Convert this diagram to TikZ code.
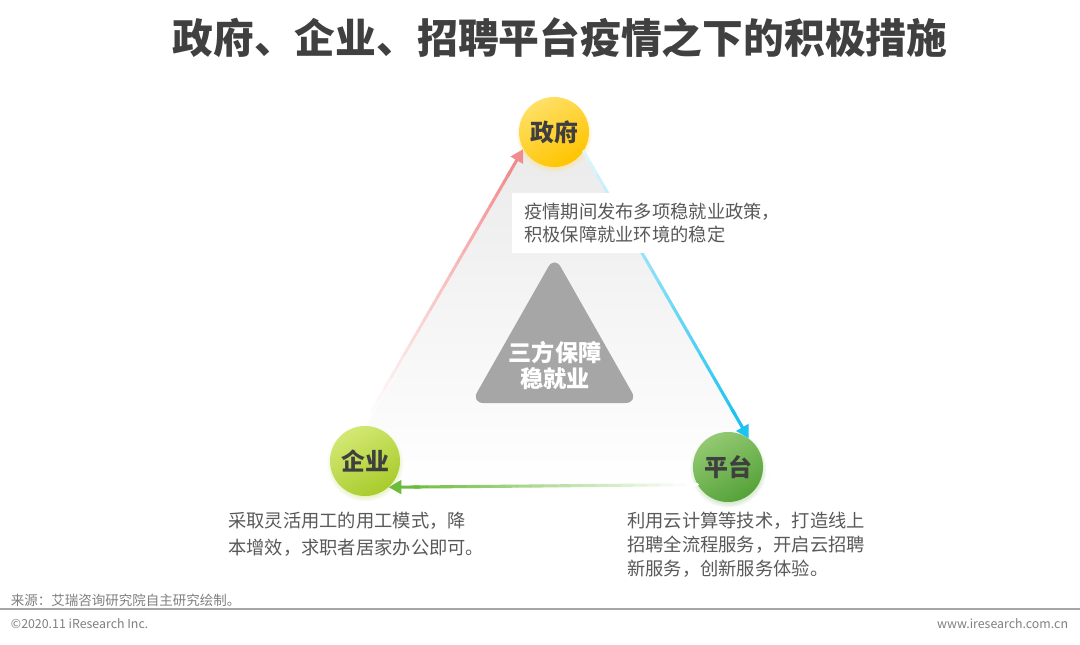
\documentclass[tikz,border=0pt]{standalone}
\usepackage{fontspec}
\setmainfont{Noto Sans CJK SC}
\usetikzlibrary{positioning,arrows.meta,calc,shadows}

\definecolor{titlegray}{HTML}{404040}
\definecolor{labelgray}{HTML}{3F3F3F}
\definecolor{notegray}{HTML}{595959}
\definecolor{footgray}{HTML}{7F7F7F}
\definecolor{coregray}{HTML}{A6A6A6}
\definecolor{govlight}{HTML}{FFE066}
\definecolor{govdark}{HTML}{FFC400}
\definecolor{entlight}{HTML}{D3E874}
\definecolor{entdark}{HTML}{A8CB2B}
\definecolor{platlight}{HTML}{93C972}
\definecolor{platdark}{HTML}{55A239}
\definecolor{redarr}{HTML}{F08C8C}
\definecolor{bluearr}{HTML}{1CC2F0}
\definecolor{greenarr}{HTML}{6CBB3C}

\begin{document}
\begin{tikzpicture}[
  x=0.025cm, y=-0.025cm,
  font=\fontsize{13}{17}\selectfont,
  ball/.style={circle, minimum size=1.75cm, inner sep=0pt, font=\bfseries\fontsize{17}{18}\selectfont, text=labelgray, shading angle=30},
  note/.style={align=left, text=notegray, inner sep=0pt},
  flow/.style={line width=2.2pt, line cap=round},
  arr/.style={-{Triangle[length=3.2mm, width=3.4mm]}, line width=2.2pt}
]
\useasboundingbox (0,0) rectangle (1080,645);

%% ---------- Title ----------
\node[font=\bfseries\fontsize{29}{30}\selectfont, text=titlegray] (title) at (560,38) {政府、企业、招聘平台疫情之下的积极措施};

%% ---------- Background triangle ----------
\shade[top color=gray!18, bottom color=white] (553,100) -- (331,487) -- (779,487) -- cycle;

%% ---------- Three parties (centres at 132 / 461 / 467) ----------
\node[ball, top color=govlight, bottom color=govdark, shading angle=30,
      circular drop shadow={shadow xshift=0pt, shadow yshift=-1.5pt, shadow scale=1.1, fill=govdark!50, opacity=0.5}] (gov) at (554,132) {政府};
\node[ball, top color=entlight, bottom color=entdark, shading angle=30,
      circular drop shadow={shadow xshift=0pt, shadow yshift=-1.5pt, shadow scale=1.1, fill=entdark!50, opacity=0.5}] (ent) at (365,461) {企业};
\node[ball, top color=platlight, bottom color=platdark, shading angle=30,
      circular drop shadow={shadow xshift=0pt, shadow yshift=-1.5pt, shadow scale=1.1, fill=platdark!50, opacity=0.5}] (plat) at (728,467) {平台};

%% ---------- Fading connectors ----------
% enterprise -> government (red, fades out towards the bottom)
\coordinate (entup) at ($(ent.north)+(0,-3)$);
\foreach \i in {0,...,21} {
  \pgfmathtruncatemacro\mix{100*\i/22}
  \draw[flow, redarr!\mix!white] ($(entup)!\i/24!(gov.209)$) -- ($(entup)!\i/24+1/24!(gov.209)$);
}
\draw[arr, redarr] ($(entup)!0.9!(gov.209)$) -- (gov.209);

% government -> platform (blue)
\foreach \i in {0,...,21} {
  \pgfmathtruncatemacro\mix{15+85*\i/22}
  \draw[flow, bluearr!\mix!white] ($(gov.-33)!\i/24!(plat.54)$) -- ($(gov.-33)!\i/24+1/24!(plat.54)$);
}
\draw[arr, bluearr] ($(gov.-33)!0.9!(plat.54)$) -- (plat.54);

% platform -> enterprise (green)
\foreach \i in {0,...,21} {
  \pgfmathtruncatemacro\mix{100*\i/22}
  \draw[flow, greenarr!\mix!white] ($(plat.210)!\i/24!(ent.-48)$) -- ($(plat.210)!\i/24+1/24!(ent.-48)$);
}
\draw[arr, greenarr] ($(plat.210)!0.9!(ent.-48)$) -- (ent.-48);

%% ---------- Core ----------
\fill[coregray, rounded corners=9pt] (554.5,256) -- (638,403) -- (471,403) -- cycle;
\node[font=\bfseries\fontsize{16.5}{18.5}\selectfont, text=white, align=center] (core) at (555,366) {三方保障\\稳就业};

%% ---------- Notes ----------
\node[note, fill=white, anchor=north west, inner xsep=0.3cm, inner ysep=0.25cm, font=\fontsize{13}{16.5}\selectfont] (govnote) at (512,193) {疫情期间发布多项稳就业政策，\\积极保障就业环境的稳定};
\node[note, anchor=north west, font=\fontsize{13}{19}\selectfont] (entnote) at (228,512) {采取灵活用工的用工模式，降\\本增效，求职者居家办公即可。};
\node[note, anchor=north west, font=\fontsize{13}{17}\selectfont] (platnote) at (627,512) {利用云计算等技术，打造线上\\招聘全流程服务，开启云招聘\\新服务，创新服务体验。};

%% ---------- Footer ----------
\node[anchor=west, text=footgray, font=\fontsize{9.6}{11}\selectfont] (source) at (6,600) {来源：艾瑞咨询研究院自主研究绘制。};
\draw[gray!70, line width=1.3pt] (0,609) -- (1080,609);
\node[anchor=west, text=footgray, font=\fontsize{8.8}{11}\selectfont] (copy) at (6,624) {©2020.11 iResearch Inc.};
\node[anchor=east, text=footgray, font=\fontsize{8.8}{11}\selectfont] (site) at (1073,624) {www.iresearch.com.cn};

\end{tikzpicture}
\end{document}
